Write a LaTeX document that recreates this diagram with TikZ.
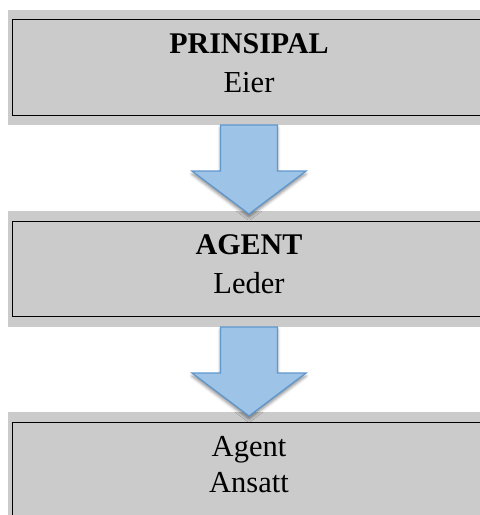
\documentclass[tikz,border=0pt]{standalone}
\usepackage{fontspec}
\setmainfont{Liberation Serif}
\usetikzlibrary{shadows.blur}
\definecolor{bandgray}{RGB}{203,203,203}
\definecolor{arrowfill}{RGB}{157,195,230}
\definecolor{arrowline}{RGB}{96,151,205}
\tikzset{
  band/.style={fill=bandgray, draw=none},
  frame/.style={draw=black, line width=1pt, fill=none},
  lbl/.style={anchor=base, inner sep=0pt, font=\fontsize{30.5}{36}\selectfont},
  blockarrow/.style={fill=arrowfill, draw=arrowline, line width=1.3pt, line join=miter,
    blur shadow={shadow xshift=0pt, shadow yshift=-3pt, shadow opacity=45, shadow blur radius=3pt}}
}
\begin{document}
\begin{tikzpicture}[x=1pt, y=-1pt]
\useasboundingbox (0,0) rectangle (480,515);
\clip (0,0) rectangle (480,515);
% bands
\node[band, inner sep=0pt, minimum width=480pt, minimum height=115pt, anchor=north west] (g1) at (8,10) {};
\node[band, inner sep=0pt, minimum width=480pt, minimum height=116pt, anchor=north west] (g2) at (8,211) {};
\node[band, inner sep=0pt, minimum width=480pt, minimum height=110pt, anchor=north west] (g3) at (8,412) {};
% frames
\draw[frame] (12,19) rectangle (500,115);
\draw[frame] (12,221) rectangle (500,316);
\draw[frame] (12,422) rectangle (500,530);
% texts
\node[lbl, font=\fontsize{30}{36}\selectfont\bfseries] (t1a) at (249,53) {PRINSIPAL};
\node[lbl] (t1b) at (249,92) {Eier};
\node[lbl, font=\fontsize{30}{36}\selectfont\bfseries] (t2a) at (249,254) {AGENT};
\node[lbl] (t2b) at (249,293) {Leder};
\node[lbl] (t3a) at (249,456) {Agent};
\node[lbl] (t3b) at (249,492) {Ansatt};
% arrows
\coordinate (a1) at (249,125);
\coordinate (a2) at (249,327);
\foreach \c in {a1,a2}{
  \draw[blockarrow] ([xshift=-28.5pt]\c) -- ([xshift=28.5pt]\c) -- ([xshift=28.5pt,yshift=-46pt]\c)
    -- ([xshift=57pt,yshift=-46pt]\c) -- ([yshift=-89pt]\c) -- ([xshift=-57pt,yshift=-46pt]\c)
    -- ([xshift=-28.5pt,yshift=-46pt]\c) -- cycle;
}
\end{tikzpicture}
\end{document}
